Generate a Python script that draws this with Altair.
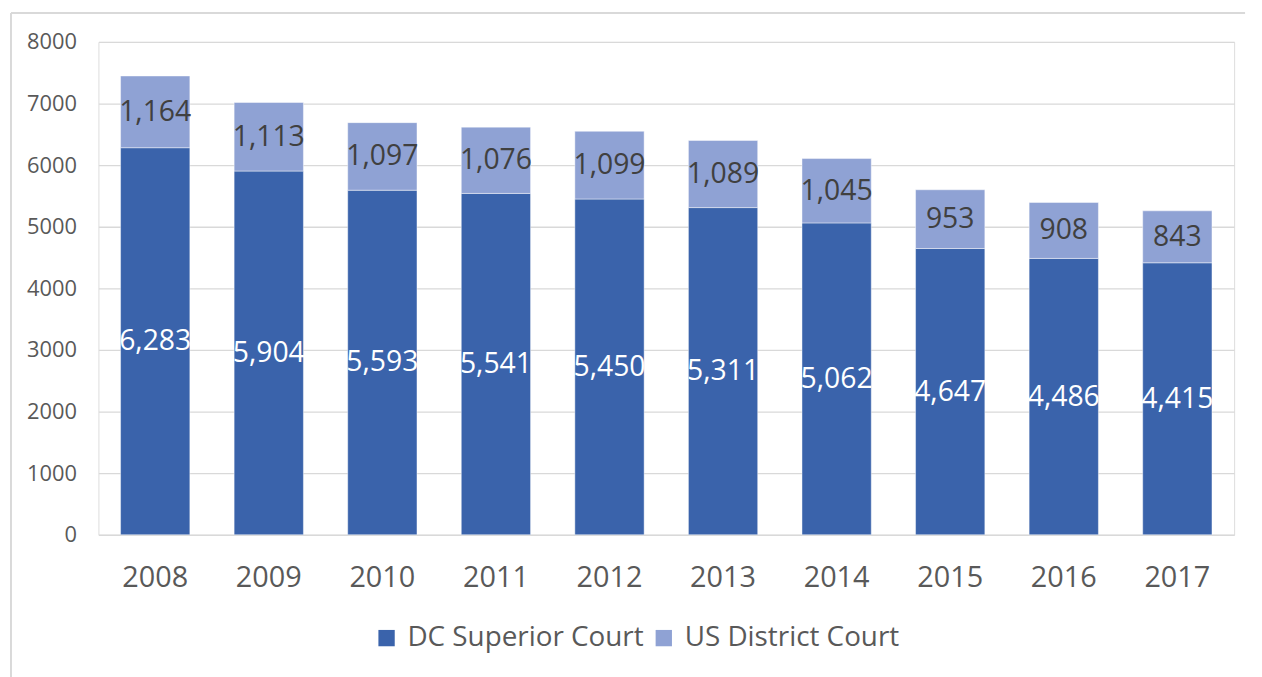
import altair as alt
import pandas as pd

years = ["2008", "2009", "2010", "2011", "2012", "2013", "2014", "2015", "2016", "2017"]
dc_superior = [6283, 5904, 5593, 5541, 5450, 5311, 5062, 4647, 4486, 4415]
us_district = [1164, 1113, 1097, 1076, 1099, 1089, 1045, 953, 908, 843]
courts = ["DC Superior Court", "US District Court"]
colors = ["#3A63AB", "#8FA2D4"]
y_ticks = [0, 1000, 2000, 3000, 4000, 5000, 6000, 7000, 8000]

rows = []
for i, y in enumerate(years):
    rows.append({"year": y, "court": courts[0], "value": dc_superior[i], "ord": 0})
    rows.append({"year": y, "court": courts[1], "value": us_district[i], "ord": 1})
df = pd.DataFrame(rows)

FONT = "Open Sans"

base = alt.Chart(df)

x_enc = alt.X(
    "year:N",
    sort=years,
    title=None,
    scale=alt.Scale(paddingInner=0.39, paddingOuter=0.195),
    axis=alt.Axis(labelAngle=0, labelFontSize=29, labelColor="#595959", labelFont=FONT,
                  ticks=False, domain=False, labelPadding=29),
)

bars = base.mark_bar(stroke="#ffffff", strokeWidth=0.8, strokeOpacity=0.55).encode(
    x=x_enc,
    y=alt.Y(
        "value:Q",
        stack="zero",
        title=None,
        scale=alt.Scale(domain=[0, 8000], nice=False),
        axis=alt.Axis(values=y_ticks, format="d", labelFontSize=22, labelColor="#595959",
                      labelFont=FONT, ticks=False, domain=False, labelPadding=22,
                      gridColor="#D9D9D9", gridWidth=1.3),
    ),
    color=alt.Color(
        "court:N",
        scale=alt.Scale(domain=courts, range=colors),
        legend=alt.Legend(
            title=None, orient="none", direction="horizontal",
            legendX=276, legendY=586,
            labelFontSize=28, labelFont=FONT, labelColor="#595959", labelLimit=0,
            symbolType="square", symbolSize=270, symbolStrokeWidth=0,
            columnPadding=6, labelOffset=7,
        ),
    ),
    order=alt.Order("ord:Q", sort="ascending"),
)

labels = base.transform_stack(
    stack="value", groupby=["year"], as_=["v0", "v1"], sort=[alt.SortField("ord", order="ascending")]
).transform_calculate(
    mid="(datum.v0 + datum.v1) / 2"
).mark_text(fontSize=28.5, font=FONT, baseline="middle", align="center").encode(
    x=alt.X("year:N", sort=years),
    y=alt.Y("mid:Q"),
    text=alt.Text("value:Q", format=","),
    color=alt.condition(alt.datum.court == "DC Superior Court", alt.value("#FFFFFF"), alt.value("#404040")),
)

frame_v = alt.Chart(pd.DataFrame({"a": [0]})).mark_rule(color="#D9D9D9", strokeWidth=2).encode(
    x=alt.value(-88), y=alt.value(-29), y2=alt.value(640)
)
frame_h = alt.Chart(pd.DataFrame({"a": [0]})).mark_rule(color="#D9D9D9", strokeWidth=2).encode(
    x=alt.value(-88), x2=alt.value(1154), y=alt.value(-29)
)

chart = alt.layer(frame_v, frame_h, bars, labels).properties(
    width=1143, height=496,
    autosize=alt.AutoSizeParams(type="none"),
    padding={"left": 91, "top": 32, "right": 20, "bottom": 141},
).configure_view(stroke=None).configure(background="#FFFFFF")

chart.save("out.html", embed_options={"renderer": "svg", "actions": False})
